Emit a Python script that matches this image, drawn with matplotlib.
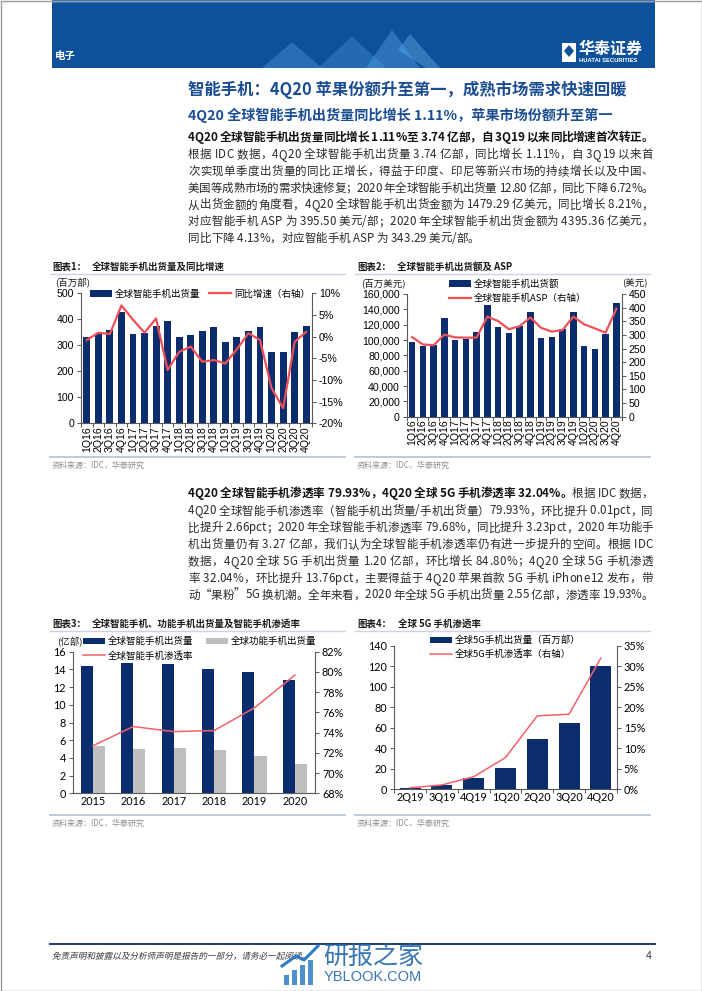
import matplotlib
matplotlib.use("Agg")
import matplotlib.pyplot as plt
import matplotlib.transforms as mtransforms
import numpy as np
from matplotlib.patches import Rectangle, Polygon, PathPatch
from matplotlib.lines import Line2D
from matplotlib.ticker import FuncFormatter
from matplotlib.font_manager import FontProperties
from matplotlib.textpath import TextPath

plt.rcParams["font.family"] = ["Liberation Sans", "Noto Sans CJK SC"]
plt.rcParams["axes.unicode_minus"] = False

W, H = 702, 991
CJK = ["Noto Sans CJK SC", "DejaVu Sans"]
NAVY = "#0b2d6e"
RED = "#ef4f57"
RED_THIN = "#f2616a"
GRAY_BAR = "#bfbfbf"
BLUE_TEXT = "#1b4d93"
SPINE = "#595959"

# ---- chart 1 / 2 data ----
quarters = ["1Q16", "2Q16", "3Q16", "4Q16", "1Q17", "2Q17", "3Q17", "4Q17",
            "1Q18", "2Q18", "3Q18", "4Q18", "1Q19", "2Q19", "3Q19", "4Q19",
            "1Q20", "2Q20", "3Q20", "4Q20"]
shipments = [331, 344, 360, 429, 343, 346, 376, 393, 332, 340, 355, 372,
             311, 330, 356, 369, 275, 276, 353, 374]
shipments_yoy = [-0.8, 0.9, 0.6, 7.2, 3.9, 0.9, 4.2, -7.7, -3.5, -2.3, -5.8, -5.4,
                 -6.2, -2.9, 0.8, -0.8, -11.9, -16.5, -1.2, 1.1]
shipment_value = [97000, 92000, 93500, 129000, 100000, 101000, 110000, 145700,
                  116500, 109600, 118000, 136500, 102000, 103500, 114300, 136000,
                  92000, 88700, 108000, 147900]
asp = [292, 265, 262, 301, 291, 290, 290, 367, 351, 321, 332, 364,
       326, 312, 318, 367, 339, 324, 308, 396]

# ---- chart 3 data ----
years = ["2015", "2016", "2017", "2018", "2019", "2020"]
smart_units = [14.4, 14.7, 14.65, 14.05, 13.71, 12.8]
feature_units = [5.4, 5.0, 5.1, 4.85, 4.2, 3.27]
smart_penetration = [72.7, 74.6, 74.1, 74.2, 76.45, 79.68]

# ---- chart 4 data ----
quarters_5g = ["2Q19", "3Q19", "4Q19", "1Q20", "2Q20", "3Q20", "4Q20"]
units_5g = [1.3, 3.5, 11, 21, 49, 65, 120]
penetration_5g = [0.3, 1.0, 3.0, 7.7, 17.9, 18.3, 32.04]

# ---- page text ----
page_title = "智能手机：4Q20 苹果份额升至第一，成熟市场需求快速回暖"
page_subtitle = "4Q20 全球智能手机出货量同比增长 1.11%，苹果市场份额升至第一"
para1_bold = "4Q20 全球智能手机出货量同比增长 1.11%至 3.74 亿部，自 3Q19 以来同比增速首次转正。"
para1_lines = [
    "根据 IDC 数据，4Q20 全球智能手机出货量 3.74 亿部，同比增长 1.11%，自 3Q19 以来首",
    "次实现单季度出货量的同比正增长，得益于印度、印尼等新兴市场的持续增长以及中国、",
    "美国等成熟市场的需求快速修复；2020 年全球智能手机出货量 12.80 亿部，同比下降 6.72%。",
    "从出货金额的角度看，4Q20 全球智能手机出货金额为 1479.29 亿美元，同比增长 8.21%，",
    "对应智能手机 ASP 为 395.50 美元/部；2020 年全球智能手机出货金额为 4395.36 亿美元，",
    "同比下降 4.13%，对应智能手机 ASP 为 343.29 美元/部。",
]
para2_bold = "4Q20 全球智能手机渗透率 79.93%，4Q20 全球 5G 手机渗透率 32.04%。"
para2_first_rest = "根据 IDC 数据，"
para2_lines = [
    "4Q20 全球智能手机渗透率（智能手机出货量/手机出货量）79.93%，环比提升 0.01pct，同",
    "比提升 2.66pct；2020 年全球智能手机渗透率 79.68%，同比提升 3.23pct，2020 年功能手",
    "机出货量仍有 3.27 亿部，我们认为全球智能手机渗透率仍有进一步提升的空间。根据 IDC",
    "数据，4Q20 全球 5G 手机出货量 1.20 亿部，环比增长 84.80%；4Q20 全球 5G 手机渗透",
    "率 32.04%，环比提升 13.76pct，主要得益于 4Q20 苹果首款 5G 手机 iPhone12 发布，带",
    "动“果粉”5G 换机潮。全年来看，2020 年全球 5G 手机出货量 2.55 亿部，渗透率 19.93%。",
]
disclaimer = "免责声明和披露以及分析师声明是报告的一部分，请务必一起阅读。"

fig = plt.figure(figsize=(W / 100, H / 100), dpi=100)
fig.patch.set_facecolor("white")
renderer = fig.canvas.get_renderer()


def add_axes_px(left, top, right, bottom):
    return fig.add_axes([left / W, 1 - bottom / H, (right - left) / W, (bottom - top) / H])


def text_px(x, y, s, **kw):
    kw.setdefault("va", "center")
    kw.setdefault("family", CJK)
    return fig.text(x / W, 1 - y / H, s, **kw)


def rect_px(x0, y0, x1, y1, **kw):
    r = Rectangle((x0 / W, 1 - y1 / H), (x1 - x0) / W, (y1 - y0) / H,
                  transform=fig.transFigure, **kw)
    fig.add_artist(r)
    return r


def hline_px(x0, x1, y, color, lw):
    fig.add_artist(Line2D([x0 / W, x1 / W], [1 - y / H] * 2, color=color, lw=lw,
                          transform=fig.transFigure))


def measure(s, prop):
    return renderer.get_text_width_height_descent(s, prop, ismath=False)[0]


def body_line(segments, x0, y, x1=None):
    """Draw one line of body text, spread char by char to end at x1 (justified)."""
    pieces = []
    cur = 0.0
    for s, prop, color in segments:
        ref = measure("M", prop)
        for i, ch in enumerate(s):
            xx = 0.0 if i == 0 else measure(s[:i] + "M", prop) - ref
            pieces.append((ch, prop, color, cur + xx))
        cur += measure(s + "M", prop) - ref
    gap = 0.0
    if x1 is not None and len(pieces) > 1:
        gap = ((x1 - x0) - cur) / (len(pieces) - 1)
    for k, (ch, prop, color, xx) in enumerate(pieces):
        if ch != " ":
            fig.text((x0 + xx + k * gap) / W, 1 - (y + 4) / H, ch,
                     fontproperties=prop, color=color, va="baseline")


def style_twin(ax, ax2, fs=7.6, family=None):
    ax.spines["top"].set_visible(False)
    ax.spines["right"].set_visible(False)
    ax2.spines["top"].set_visible(False)
    ax2.spines["left"].set_visible(False)
    ax2.spines["bottom"].set_visible(False)
    for a in (ax, ax2):
        for s in a.spines.values():
            s.set_color(SPINE)
            s.set_linewidth(0.8)
        a.tick_params(axis="y", direction="out", length=3, width=0.7,
                      color=SPINE, labelsize=fs, pad=2)
        a.tick_params(axis="x", labelsize=fs, pad=2)
        if family:
            for lab in a.get_yticklabels() + a.get_xticklabels():
                lab.set_family(family)
    ax.patch.set_alpha(0)


def pct_fmt(v, pos):
    return f"{v:.0f}%"


def legend_px(handles, labels, x, y, ncol=1, fs=6.8, colsp=1.0, labsp=0.45, hl=2.3):
    fig.legend(handles, labels, loc="center left", bbox_to_anchor=(x / W, 1 - y / H),
               ncol=ncol, frameon=False, prop={"family": CJK, "size": fs},
               handlelength=hl, handleheight=0.7, handletextpad=0.35,
               columnspacing=colsp, labelspacing=labsp, borderpad=0, borderaxespad=0)


# ================= header =================
rect_px(52, 0, 655, 68, fc="#0e519b", ec="none")
rect_px(52, 0, 655, 3, fc="#2a6cb3", ec="none")
for pts, a in [([(262, 68), (292, 42), (322, 68)], 0.35),
               ([(318, 68), (352, 36), (386, 68)], 0.3),
               ([(366, 68), (392, 30), (420, 68)], 0.4),
               ([(398, 50), (410, 34), (440, 68), (426, 68)], 0.45)]:
    fig.add_artist(Polygon([(px / W, 1 - py / H) for px, py in pts], closed=True,
                           transform=fig.transFigure, fc="#5aa6e6", ec="none", alpha=a))
text_px(55, 56, "电子", color="white", fontsize=7.5, weight="bold")
rect_px(562, 43, 576, 62, fc="white", ec="none")
fig.add_artist(Polygon([(569 / W, 1 - 45 / H), (574 / W, 1 - 51 / H), (569 / W, 1 - 57 / H),
                        (564 / W, 1 - 51 / H)], closed=True, transform=fig.transFigure,
                       fc="#0e519b", ec="none"))
text_px(579, 49, "华泰证券", color="white", fontsize=11.5, weight="bold")
text_px(579, 61, "HUATAI SECURITIES", color="white", fontsize=4.2,
        family=["Liberation Sans"], weight="bold")

# ================= page text =================
text_px(188, 90, page_title, color=BLUE_TEXT, fontsize=11.8, weight="bold")
text_px(188, 115.7, page_subtitle, color=BLUE_TEXT, fontsize=10.2, weight="bold")

bold_fp = FontProperties(family=CJK, size=8.4, weight="bold")
norm_fp = FontProperties(family=CJK, size=8.3)
TXT_BOLD, TXT = "#111111", "#2a2a2a"

body_line([(para1_bold, bold_fp, TXT_BOLD)], 188, 136.7, 653)
for i, line in enumerate(para1_lines):
    last = i == len(para1_lines) - 1
    body_line([(line, norm_fp, TXT)], 188, 154 + i * 16.8, None if last else 653)

body_line([(para2_bold, bold_fp, TXT_BOLD), (para2_first_rest, norm_fp, TXT)], 188, 493, 653)
for i, line in enumerate(para2_lines):
    body_line([(line, norm_fp, TXT)], 188, 510.5 + i * 16.8, 653)

# chart frames: titles, rules, sources
for x0, x1, y_title, y_rule, y_bottom, y_src, tag, caption, cap_x in [
    (50, 345, 267, 273.5, 456.5, 465, "图表1：", "全球智能手机出货量及同比增速", 92),
    (355, 650, 267, 273.5, 456.5, 465, "图表2：", "全球智能手机出货额及 ASP", 397),
    (50, 345, 624, 630.7, 815, 823, "图表3：", "全球智能手机、功能手机出货量及智能手机渗透率", 92),
    (355, 650, 624, 630.7, 815, 823, "图表4：", "全球 5G 手机渗透率", 398),
]:
    text_px(x0 + 2, y_title, tag, color="#1a1a1a", fontsize=6.8, weight="bold")
    text_px(cap_x, y_title, caption, color="#1a1a1a", fontsize=6.8, weight="bold")
    hline_px(x0, x1, y_rule, "#c9d3e1", 1.0)
    hline_px(x0, x1, y_bottom, "#b9c6d8", 1.3)
    text_px(x0 + 2, y_src, "资料来源：IDC，华泰研究", color="#8f8f8f", fontsize=5.8)

# ================= chart 1 =================
x = np.arange(len(quarters))
ax1 = add_axes_px(81, 293.3, 312, 423.3)
ax1.bar(x, shipments, width=0.6, color=NAVY, zorder=2)
ax1.set_ylim(0, 500)
ax1.set_yticks(np.arange(0, 501, 100))
ax1.set_xlim(-0.5, len(quarters) - 0.5)
ax1.set_xticks(x)
ax1.set_xticklabels(quarters, rotation=90)
ax1.set_xticks(np.arange(len(quarters) + 1) - 0.5, minor=True)
ax1.tick_params(axis="x", which="major", length=0)
ax1.tick_params(axis="x", which="minor", length=3, width=0.7, color=SPINE, direction="out")
ax1b = ax1.twinx()
ax1b.plot(x, shipments_yoy, color=RED, lw=1.6)
ax1b.set_ylim(-20, 10)
ax1b.set_yticks(np.arange(-20, 11, 5))
ax1b.yaxis.set_major_formatter(FuncFormatter(pct_fmt))
style_twin(ax1, ax1b)
text_px(55, 282.7, "(百万部)", color="#1a1a1a", fontsize=6.8)
legend_px([Rectangle((0, 0), 1, 1, fc=NAVY), Line2D([], [], color=RED, lw=1.6)],
          ["全球智能手机出货量", "同比增速（右轴）"], 90, 294, ncol=2, colsp=0.9)

# ================= chart 2 =================
ax2 = add_axes_px(406.7, 294, 621.7, 416.7)
ax2.bar(x, shipment_value, width=0.6, color=NAVY, zorder=2)
ax2.set_ylim(0, 160000)
ax2.set_yticks(np.arange(0, 160001, 20000))
ax2.yaxis.set_major_formatter(FuncFormatter(lambda v, p: f"{v:,.0f}"))
ax2.set_xlim(-0.5, len(quarters) - 0.5)
ax2.set_xticks(x)
ax2.set_xticklabels(quarters, rotation=90)
ax2.set_xticks(np.arange(len(quarters) + 1) - 0.5, minor=True)
ax2.tick_params(axis="x", which="major", length=0)
ax2.tick_params(axis="x", which="minor", length=3, width=0.7, color=SPINE, direction="out")
ax2b = ax2.twinx()
ax2b.plot(x, asp, color=RED, lw=1.6)
ax2b.set_ylim(0, 450)
ax2b.set_yticks(np.arange(0, 451, 50))
style_twin(ax2, ax2b)
text_px(361, 283, "(百万美元)", color="#1a1a1a", fontsize=6.8)
text_px(622, 283, "(美元)", color="#1a1a1a", fontsize=6.8)
legend_px([Rectangle((0, 0), 1, 1, fc=NAVY), Line2D([], [], color=RED, lw=1.6)],
          ["全球智能手机出货额", "全球智能手机ASP（右轴）"], 449, 291, labsp=0.5)

# ================= chart 3 =================
xy = np.arange(len(years))
ax3 = add_axes_px(72.7, 651.7, 315, 793.3)
ax3.bar(xy - 0.15, smart_units, width=0.3, color=NAVY, zorder=2)
ax3.bar(xy + 0.15, feature_units, width=0.3, color=GRAY_BAR, zorder=2)
ax3.set_ylim(0, 16)
ax3.set_yticks(np.arange(0, 17, 2))
ax3.set_xlim(-0.5, len(years) - 0.5)
ax3.set_xticks(xy)
ax3.set_xticklabels(years)
ax3.tick_params(axis="x", length=0, pad=4)
ax3b = ax3.twinx()
ax3b.plot(xy, smart_penetration, color=RED_THIN, lw=1.1)
ax3b.set_ylim(68, 82)
ax3b.set_yticks(np.arange(68, 83, 2))
ax3b.yaxis.set_major_formatter(FuncFormatter(pct_fmt))
style_twin(ax3, ax3b, fs=7.8, family="Lato")
text_px(57, 641.7, "(亿部)", color="#1a1a1a", fontsize=6.8)
legend_px([Rectangle((0, 0), 1, 1, fc=NAVY), Line2D([], [], color=RED_THIN, lw=1.1),
           Rectangle((0, 0), 1, 1, fc=GRAY_BAR)],
          ["全球智能手机出货量", "全球智能手机渗透率", "全球功能手机出货量"],
          83, 648.7, ncol=2, colsp=1.3, labsp=0.5)

# ================= chart 4 =================
x5 = np.arange(len(quarters_5g))
ax4 = add_axes_px(394.3, 646, 616.7, 789)
ax4.bar(x5, units_5g, width=0.66, color=NAVY, zorder=2)
ax4.set_ylim(0, 140)
ax4.set_yticks(np.arange(0, 141, 20))
ax4.set_xlim(-0.5, len(quarters_5g) - 0.5)
ax4.set_xticks(x5)
ax4.set_xticklabels(quarters_5g)
ax4.set_xticks(np.arange(len(quarters_5g) + 1) - 0.5, minor=True)
ax4.tick_params(axis="x", which="major", length=0, pad=4)
ax4.tick_params(axis="x", which="minor", length=3, width=0.7, color=SPINE, direction="out")
ax4b = ax4.twinx()
ax4b.plot(x5, penetration_5g, color=RED_THIN, lw=1.1)
ax4b.set_ylim(0, 35)
ax4b.set_yticks(np.arange(0, 36, 5))
ax4b.yaxis.set_major_formatter(FuncFormatter(pct_fmt))
style_twin(ax4, ax4b, fs=7.8, family="Lato")
legend_px([Rectangle((0, 0), 1, 1, fc=NAVY), Line2D([], [], color=RED_THIN, lw=1.1)],
          ["全球5G手机出货量（百万部）", "全球5G手机渗透率（右轴）"], 430, 647.5, labsp=0.45)

# ================= footer =================
hline_px(50, 655, 944, "#1f3f73", 1.4)
# slanted disclaimer (CJK font has no italic face)
tp = TextPath((0, 0), disclaimer, size=6.2, prop=FontProperties(family=CJK))
slant = mtransforms.Affine2D().skew_deg(12, 0).scale(100 / 72).translate(52, H - 959)
fig.add_artist(PathPatch(tp, transform=slant, fc="#333333", ec="none"))
text_px(652, 956, "4", color="#333333", fontsize=7.5, ha="right", family=["Liberation Sans"])
for bx, bh in [(284, 10), (292, 15), (300, 20), (308, 25)]:
    rect_px(bx, 985 - bh, bx + 5, 985, fc="#2b7cc4", ec="none", alpha=0.85)
fig.add_artist(Line2D([282 / W, 296 / W, 304 / W, 318 / W],
                      [1 - 966 / H, 1 - 956 / H, 1 - 960 / H, 1 - 946 / H],
                      color="#2b7cc4", lw=2.2, transform=fig.transFigure))
text_px(323, 957, "研报之家", color="#2468ad", fontsize=18, alpha=0.9)
text_px(324, 977, "YBLOOK.COM", color="#2468ad", fontsize=10.5, alpha=0.9,
        family=["Liberation Sans"])

rect_px(0.5, 0.5, W - 0.5, H - 0.5, fill=False, ec="#9a9a9a", lw=1.0)

fig.savefig("out.png", dpi=100)
